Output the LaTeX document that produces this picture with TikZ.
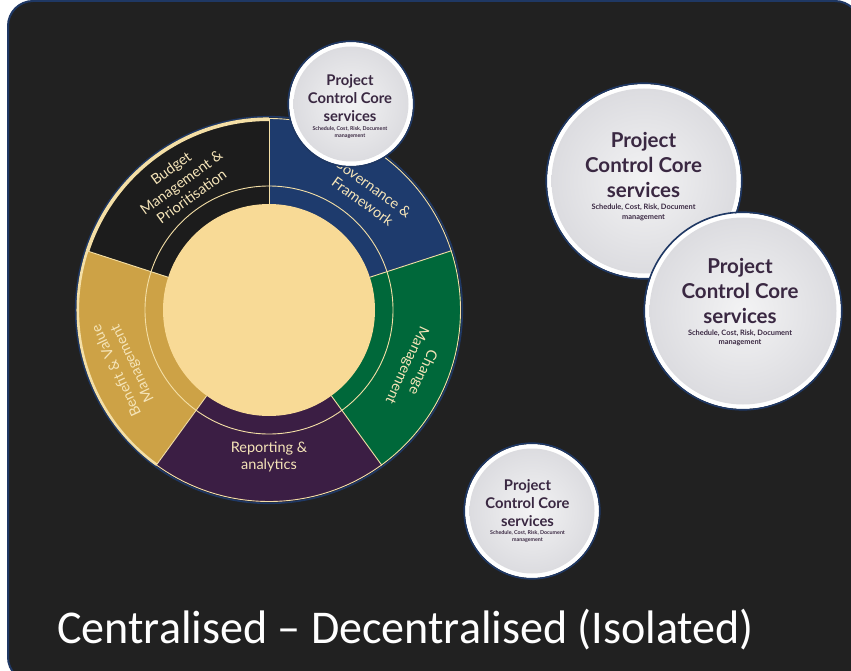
\documentclass[tikz,border=0pt]{standalone}
\usepackage{fontspec}
\setmainfont{Lato}
\newfontfamily\titlefont{Carlito}
\definecolor{bgdark}{HTML}{212121}
\definecolor{navyline}{HTML}{1F3864}
\definecolor{govblue}{HTML}{1E3B6D}
\definecolor{chgreen}{HTML}{00683A}
\definecolor{reppurple}{HTML}{3B1E44}
\definecolor{bengold}{HTML}{CDA246}
\definecolor{budgetdark}{HTML}{1C1C1C}
\definecolor{corefill}{HTML}{F8DA96}
\definecolor{creamline}{HTML}{F4DFA6}
\definecolor{labeltext}{HTML}{F5E4B8}
\definecolor{balltext}{HTML}{3A2842}
\definecolor{ballin}{HTML}{F3F3F4}
\definecolor{ballout}{HTML}{DCDCE0}
\tikzset{
  seglabel/.style={text=labeltext, align=center, inner sep=0pt,
    font=\fontsize{14.5}{17.5}\selectfont},
  balltxt/.style={text=balltext, anchor=base, inner sep=0pt},
  sepline/.style={creamline, line width=0.9pt},
}
\newcommand\pccball[3]{%
  \fill[white] (#1,#2) circle[radius=#3];
  \shade[inner color=ballin, outer color=ballout] (#1,#2) circle[radius=#3-4.5];
  \draw[navyline, line width=1.6pt] (#1,#2) circle[radius=#3+0.8];
}
\newcommand\pcctext[4]{%
  \pgfmathsetmacro\pccmain{20.5*#4}%
  \pgfmathsetmacro\pccsmall{7.4*#4}%
  \node[balltxt, font=\fontsize{\pccmain}{\pccmain}\selectfont\bfseries] (#1a) at (#2,#3-25*#4) {Project};
  \node[balltxt, font=\fontsize{\pccmain}{\pccmain}\selectfont\bfseries] (#1b) at (#2,#3) {Control Core};
  \node[balltxt, font=\fontsize{\pccmain}{\pccmain}\selectfont\bfseries] (#1c) at (#2,#3+25*#4) {services};
  \node[balltxt, font=\fontsize{\pccsmall}{\pccsmall}\selectfont\bfseries] (#1d) at (#2,#3+37*#4) {Schedule, Cost, Risk, Document};
  \node[balltxt, font=\fontsize{\pccsmall}{\pccsmall}\selectfont\bfseries] (#1e) at (#2,#3+46*#4) {management};
}
\begin{document}
\begin{tikzpicture}[x=1pt,y=-1pt]
\useasboundingbox (0,0) rectangle (851,671);
\fill[white] (0,0) rectangle (851,671);
\draw[navyline, fill=bgdark, line width=2pt, rounded corners=25pt] (8,1) rectangle (860,682);

% donut
\begin{scope}[shift={(269,310)}, yscale=-1]
  \fill[govblue] (0,0) -- (18:192) arc[start angle=18, end angle=90, radius=192] -- cycle;
  \fill[budgetdark] (0,0) -- (90:192) arc[start angle=90, end angle=162, radius=192] -- cycle;
  \fill[bengold] (0,0) -- (162:192) arc[start angle=162, end angle=234, radius=192] -- cycle;
  \fill[reppurple] (0,0) -- (234:192) arc[start angle=234, end angle=306, radius=192] -- cycle;
  \fill[chgreen] (0,0) -- (306:192) arc[start angle=306, end angle=378, radius=192] -- cycle;
  \foreach \a in {18,90,162,234,306} \draw[sepline] (\a:106) -- (\a:192);
  \draw[sepline] (0,0) circle[radius=124];
  \draw[sepline] (0,0) circle[radius=191.5];
  \fill[corefill] (0,0) circle[radius=106];
  \draw[navyline, line width=1.6pt] (0,0) circle[radius=193.3];
  \draw[creamline, line width=3.6pt] (90:190.8) arc[start angle=90, end angle=162, radius=190.8];
  \draw[creamline, line width=2.6pt] (162:191.2) arc[start angle=162, end angle=234, radius=191.2];

  \node[seglabel, rotate=36] (budget) at (124.5:155) {Budget\\Management \&\\Prioritisation};
  \node[seglabel, rotate=-36] (gov) at (49.5:152) {Governance \&\\Framework};
  \node[seglabel, rotate=-115] (change) at (338:157) {Change\\Management};
  \node[seglabel] (report) at (270:147) {Reporting \&\\analytics};
  \node[seglabel, rotate=115] (benefit) at (201.5:155) {Benefit \& Value\\Management};
\end{scope}

% Project control core balls
\pccball{351}{104}{62}
\pcctext{top}{350}{104}{0.72}
\pccball{644}{181}{97}
\pcctext{bigA}{643.5}{173}{1}
\pccball{743}{311}{98}
\pcctext{bigB}{740}{298}{1}
\pccball{532}{511}{67}
\pcctext{low}{527.5}{508}{0.72}

\node[anchor=base west, inner sep=0pt, text=white, font=\titlefont\fontsize{47}{47}\selectfont] (title) at (57,643) {\scalebox{0.98}[1]{Centralised – Decentralised (Isolated)}};
\end{tikzpicture}
\end{document}
